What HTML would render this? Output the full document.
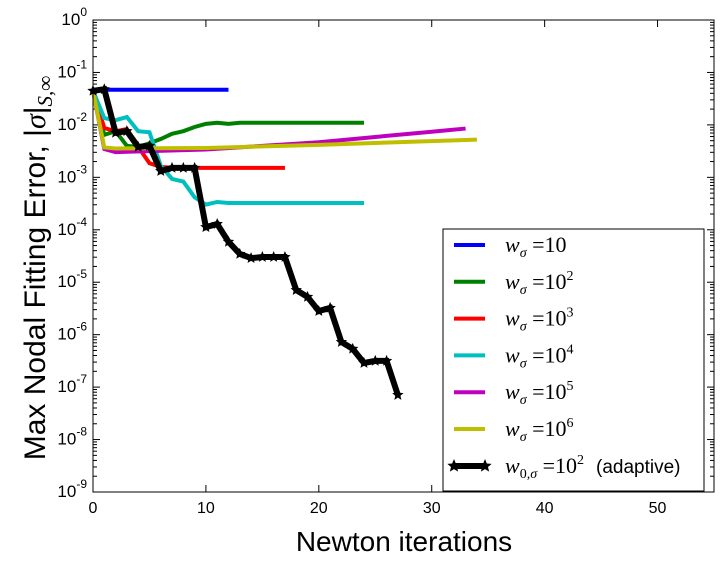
<!DOCTYPE html>
<html><head><meta charset="utf-8"><style>
body{margin:0;background:#fff;}
svg{display:block;font-family:"Liberation Sans","DejaVu Sans",sans-serif;}
</style></head><body>
<svg id="chart" width="723" height="566"></svg>
<script>
const xTicks=[0,10,20,30,40,50];
const yExps=[0,-1,-2,-3,-4,-5,-6,-7,-8,-9];
const itersBlue=[0,1,2,3,4,5,6,7,8,9,10,11,12];
const logBlue=[-1.33,-1.33,-1.33,-1.33,-1.33,-1.33,-1.33,-1.33,-1.33,-1.33,-1.33,-1.33,-1.33];
const itersGreen=[0,1,2,3,4,5,6,7,8,9,10,11,12,13,14,16,18,20,22,24];
const logGreen=[-1.35,-2.19,-2.12,-2.40,-2.42,-2.35,-2.27,-2.17,-2.12,-2.04,-1.98,-1.96,-1.98,-1.96,-1.96,-1.96,-1.96,-1.96,-1.96,-1.96];
const itersRed=[0,1,2,3,4,5,6,7,8,10,12,14,17];
const logRed=[-1.35,-2.06,-2.12,-2.08,-2.42,-2.73,-2.80,-2.82,-2.82,-2.82,-2.82,-2.82,-2.82];
const itersCyan=[0,1,2,3,4,5,6,7,8,9,10,11,12,16,20,24];
const logCyan=[-1.35,-1.87,-1.91,-1.85,-2.12,-2.14,-2.78,-3.03,-3.08,-3.38,-3.52,-3.47,-3.49,-3.49,-3.49,-3.49];
const itersMag=[0,1,2,5,10,15,20,25,30,33];
const logMag=[-1.35,-2.46,-2.52,-2.50,-2.47,-2.40,-2.33,-2.23,-2.13,-2.07];
const itersYel=[0,1,2,10,20,34];
const logYel=[-1.35,-2.43,-2.45,-2.44,-2.38,-2.28];
const itersBlack=[0,1,2,3,4,5,6,7,8,9,10,11,12,13,14,15,16,17,18,19,20,21,22,23,24,25,26,27];
const logBlack=[-1.35,-1.32,-2.15,-2.12,-2.42,-2.40,-2.88,-2.82,-2.82,-2.82,-3.95,-3.89,-4.23,-4.46,-4.54,-4.52,-4.52,-4.52,-5.15,-5.28,-5.55,-5.49,-6.14,-6.27,-6.54,-6.50,-6.50,-7.15];

const L=93,R=714,T=20,B=492,XMAX=55;
const sx=v=>L+(v/XMAX)*(R-L);
const sy=e=>T+(0-e)/9*(B-T);
const NS="http://www.w3.org/2000/svg";
const svg=document.getElementById('chart');
function mk(tag,attrs,parent){const e=document.createElementNS(NS,tag);for(const k in attrs)e.setAttribute(k,attrs[k]);(parent||svg).appendChild(e);return e;}

xTicks.forEach(v=>{
  const x=sx(v);
  mk('line',{x1:x,x2:x,y1:B,y2:B-7,stroke:'#000'});
  mk('line',{x1:x,x2:x,y1:T,y2:T+7,stroke:'#000'});
  const t=mk('text',{x:x,y:B+21,'text-anchor':'middle','font-size':16});
  t.textContent=v;
  
  
});
yExps.forEach(e=>{
  const y=sy(e);
  mk('line',{x1:L,x2:L+7,y1:y,y2:y,stroke:'#000'});
  mk('line',{x1:R,x2:R-7,y1:y,y2:y,stroke:'#000'});
  if(e>-9){for(let k=2;k<10;k++){const yy=sy(e-1+Math.log10(k));
    mk('line',{x1:L,x2:L+4,y1:yy,y2:yy,stroke:'#000'});
    mk('line',{x1:R,x2:R-4,y1:yy,y2:yy,stroke:'#000'});}}
  const t=mk('text',{x:L-6,y:y+5,'text-anchor':'end','font-size':17});
  
  
  t.innerHTML='10<tspan dy="-9" font-size="12">'+e+'</tspan>';
});

function series(xs,ys,color,w,name){
  const p=mk('polyline',{points:xs.map((x,i)=>sx(x)+','+sy(ys[i])).join(' '),fill:'none',stroke:color,'stroke-width':w,'stroke-linejoin':'miter'});
  
  
}
function star(cx,cy,r,parent){
  let pts=[];for(let i=0;i<10;i++){const a=-Math.PI/2+i*Math.PI/5;const rr=i%2?r*0.45:r;pts.push((cx+rr*Math.cos(a))+','+(cy+rr*Math.sin(a)));}
  return mk('polygon',{points:pts.join(' '),fill:'#000'},parent);
}
series(itersBlue,logBlue,'#0000ff',4,'series-w10');
series(itersGreen,logGreen,'#008000',4,'series-w1e2');
series(itersRed,logRed,'#ff0000',4,'series-w1e3');
series(itersCyan,logCyan,'#00bfbf',4,'series-w1e4');
series(itersMag,logMag,'#bf00bf',4,'series-w1e5');
series(itersYel,logYel,'#bfbf00',4,'series-w1e6');
series(itersBlack,logBlack,'#000',6,'series-adaptive');
itersBlack.forEach((x,i)=>{const s=star(sx(x),sy(logBlack[i]),6);
  
  });

mk('rect',{x:L,y:T,width:R-L,height:B-T,fill:'none',stroke:'#000','stroke-width':1});

const lg=mk('g',{});


mk('rect',{x:443,y:229,width:261,height:262,fill:'#fff',stroke:'#000'},lg);
const labels=['10','10<tspan dy="-9" font-size="14">2</tspan>','10<tspan dy="-9" font-size="14">3</tspan>','10<tspan dy="-9" font-size="14">4</tspan>','10<tspan dy="-9" font-size="14">5</tspan>','10<tspan dy="-9" font-size="14">6</tspan>'];
const cols=['#0000ff','#008000','#ff0000','#00bfbf','#bf00bf','#bfbf00'];
labels.forEach((lab,i)=>{
  const y=245+i*36.8;
  mk('line',{x1:454,x2:485,y1:y,y2:y,stroke:cols[i],'stroke-width':4},lg);
  const t=mk('text',{x:505,y:y+7,'font-size':22,'font-family':'"Liberation Serif",serif'},lg);
  
  
  t.innerHTML='<tspan font-style="italic">w</tspan><tspan font-size="14" font-style="italic" dy="5">σ</tspan><tspan dy="-5"> =</tspan>'+lab;
});
const ya=466;
mk('line',{x1:454,x2:485,y1:ya,y2:ya,stroke:'#000','stroke-width':6},lg);
star(454,ya,7,lg);star(485,ya,7,lg);
const ta=mk('text',{x:505,y:ya+7,'font-size':22,'font-family':'"Liberation Serif",serif'},lg);


ta.innerHTML='<tspan font-style="italic">w</tspan><tspan font-size="14" dy="5">0,<tspan font-style="italic">σ</tspan></tspan><tspan dy="-5"> =</tspan>10<tspan dy="-9" font-size="14">2</tspan><tspan dy="9" dx="12" font-family="Liberation Sans" font-size="19">(adaptive)</tspan>';

const xt=mk('text',{x:404,y:551,'text-anchor':'middle','font-size':28});
xt.textContent='Newton iterations';


const yt=mk('text',{x:0,y:0,'text-anchor':'middle','font-size':30,transform:'translate(45,268) rotate(-90)'});


yt.innerHTML='Max Nodal Fitting Error, |<tspan font-style="italic" font-family="Liberation Serif">σ</tspan>|<tspan font-size="21" dy="7" font-style="italic" font-family="Liberation Serif">S,∞</tspan>';
</script>
</body></html>
